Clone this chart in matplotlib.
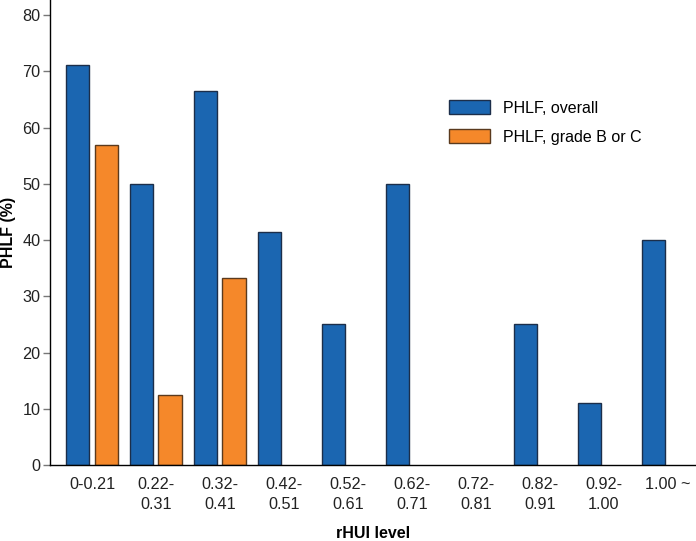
import numpy as np
import matplotlib.pyplot as plt

plt.rcParams['font.family'] = ['Liberation Sans', 'DejaVu Sans']

# Data (nan = no bar shown)
levels = ['0-0.21', '0.22-\n0.31', '0.32-\n0.41', '0.42-\n0.51', '0.52-\n0.61',
          '0.62-\n0.71', '0.72-\n0.81', '0.82-\n0.91', '0.92-\n1.00', '1.00 ~']
overall = [71.2, 50.0, 66.5, 41.4, 25.0, 50.0, np.nan, 25.0, 11.1, 40.0]
grade_bc = [57.0, 12.5, 33.3, np.nan, np.nan, np.nan, np.nan, np.nan, np.nan, np.nan]

x = np.arange(len(levels))
w = 0.37

fig = plt.figure(figsize=(6.96, 5.41), dpi=100)
ax = fig.add_axes([0.0718, 0.1405, 0.9282, 0.8595])

ax.bar(x - 0.225, overall, width=w, color='#1b66b1', edgecolor='#1c2e4a',
       linewidth=1, label='PHLF, overall')
ax.bar(x + 0.225, grade_bc, width=w, color='#f5882a', edgecolor='#5a3a1e',
       linewidth=1, label='PHLF, grade B or C')

ax.set_xlim(-0.656, 9.44)
ax.set_ylim(0, 82.7)
ax.set_yticks(np.arange(0, 81, 10))
ax.set_xticks(x, levels)
for lbl in ax.get_xticklabels():
    lbl.set_linespacing(1.35)

for s in ['top', 'right']:
    ax.spines[s].set_visible(False)
ax.spines['left'].set_linewidth(1)
ax.spines['bottom'].set_linewidth(1)

ax.tick_params(axis='y', length=5, width=1, color='#777777', pad=2,
               labelsize=11.7, labelcolor='#222222')
ax.tick_params(axis='x', length=0, pad=9, labelsize=11.7, labelcolor='#222222')

ax.set_ylabel('PHLF (%)', fontsize=11.5, fontweight='bold')
ax.yaxis.set_label_coords(-0.053, 0.5)
ax.set_xlabel('rHUI level', fontsize=11.5, fontweight='bold', labelpad=10)

ax.legend(loc='upper left', bbox_to_anchor=(0.595, 0.815), frameon=False,
          fontsize=11.5, handlelength=2.56, handleheight=0.95,
          handletextpad=0.85, labelspacing=0.85)

plt.savefig('out.png', dpi=100)
